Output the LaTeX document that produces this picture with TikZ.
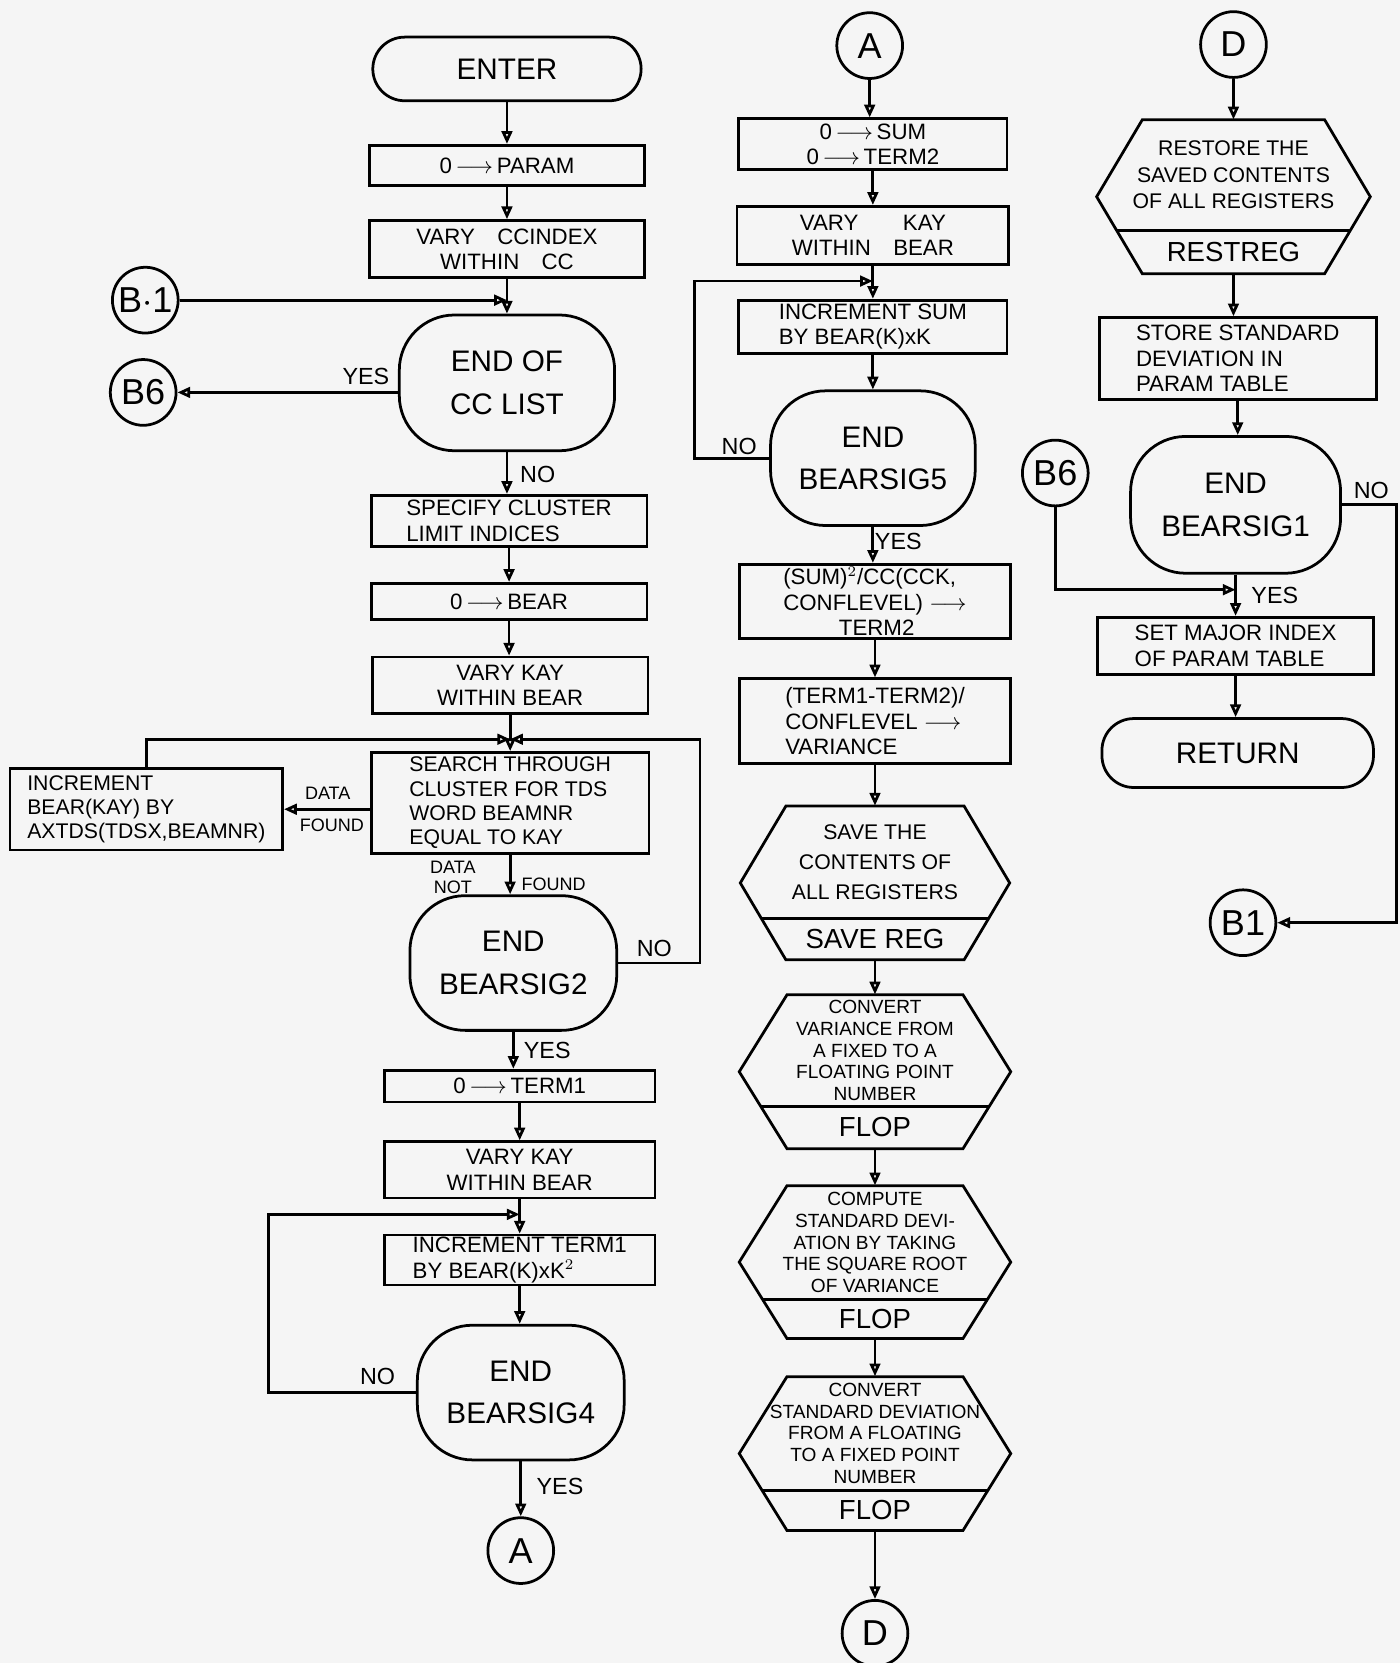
\documentclass[tikz,border=0pt]{standalone}
\usepackage{fontspec}
\setmainfont{Liberation Sans}
\usetikzlibrary{arrows.meta,calc}
\newcommand\hexfont{\fontsize{9.5}{11}\selectfont}
\newcommand\hexnode[9]{%
 \pgfmathsetmacro\hM{(#3+#4)/2}%
 \pgfmathsetmacro\hL{#2-#5}%
 \pgfmathsetmacro\hR{#2+#5}%
 \pgfmathsetmacro\hDx{#6*(#7-\hM)/(#4-\hM)}%
 \node[sz={2*#5}{#4-#3},inner sep=0pt] (#1) at (#2,\hM) {};%
 \draw[ln] (\hL+#6,#3) -- (\hR-#6,#3) -- (\hR,\hM) -- (\hR-#6,#4) -- (\hL+#6,#4) -- (\hL,\hM) -- cycle;%
 \draw[ln] (\hL+\hDx,#7) -- (\hR-\hDx,#7);%
 \node[hext] (#1-t) at (#2,{(#3+#7)/2}) {#8};%
 \node[hexl] (#1-l) at (#2,{(#7+#4)/2}) {#9};%
}
\begin{document}
\begin{tikzpicture}[x=0.5pt,y=-0.5pt,
  ln/.style={line width=1.3pt},
  arr/.style={ln,-{Triangle[open,length=6pt,width=5pt]}},
  sz/.style 2 args={minimum width=(#1)*0.5pt,minimum height=(#2)*0.5pt},
  box/.style={draw,ln,rectangle,inner sep=1pt,align=center,font=\fontsize{10.5}{12}\selectfont},
  dec/.style={draw,ln,rectangle,rounded corners=26pt,align=center,font=\fontsize{14}{20}\selectfont},
  term/.style={draw,ln,rectangle,rounded corners=15pt,align=center,font=\fontsize{14}{16}\selectfont},
  conn/.style={draw,ln,circle,minimum size=31pt,inner sep=0pt,font=\fontsize{17}{17}\selectfont},
  lbl/.style={font=\fontsize{11}{12}\selectfont,inner sep=1pt},
  small/.style={font=\fontsize{8.5}{9.5}\selectfont,inner sep=1pt,align=center},
  hext/.style={align=center,font=\hexfont,inner sep=0pt},
  hexl/.style={font=\fontsize{13}{14}\selectfont,inner sep=0pt},
]
\fill[white!96!black] (0,0) rectangle (1320,1568);
\useasboundingbox (0,0) rectangle (1320,1568);

% ---------------- left column ----------------
\node[term,sz={253}{60}] (enter) at (478,65) {ENTER};
\node[box,sz={259}{38}] (param) at (478,156) {0\,$\longrightarrow$\,PARAM};
\node[box,sz={259}{54}] (ccindex) at (478,235) {VARY\quad CCINDEX\\WITHIN\quad CC};
\node[conn] (b1) at (137,283) {B$\cdot$1};
\node[dec,sz={203}{128}] (endcc) at (478,361) {END OF\\CC LIST};
\node[conn] (b6) at (135,370) {B6};
\node[box,sz={260}{48},align=left] (specify) at (480,491) {SPECIFY CLUSTER\\LIMIT INDICES};
\node[box,sz={260}{34}] (bear0) at (480,567) {0\,$\longrightarrow$\,BEAR};
\node[box,sz={260}{53}] (vk1) at (481,646) {VARY KAY\\WITHIN BEAR};
\coordinate (j1) at (481,697);
\coordinate (c1) at (660,697);
\node[box,sz={262}{95},align=left,font=\fontsize{10}{11.5}\selectfont] (search) at (481,757) {SEARCH THROUGH\\CLUSTER FOR TDS\\WORD BEAMNR\\EQUAL TO KAY};
\node[box,sz={257}{77},align=left,font=\fontsize{10}{11.5}\selectfont] (incbear) at (138,763) {INCREMENT\\BEAR(KAY) BY\\AXTDS(TDSX,BEAMNR)};
\node[dec,sz={195}{127}] (endbs2) at (484,908) {END\\BEARSIG2};
\node[box,sz={255}{30}] (term1) at (490,1024) {0\,$\longrightarrow$\,TERM1};
\node[box,sz={255}{53}] (vk2) at (490,1103) {VARY KAY\\WITHIN BEAR};
\coordinate (j2) at (490,1145);
\coordinate (c2) at (253,1145);
\node[box,sz={255}{47},align=left] (incterm1) at (490,1188) {INCREMENT TERM1\\BY BEAR(K)xK$^2$};
\node[dec,sz={195}{127}] (endbs4) at (491,1313) {END\\BEARSIG4};
\node[conn] (aL) at (491,1462) {A};

% ---------------- middle column ----------------
\node[conn] (aM) at (820,43) {A};
\node[box,sz={253}{48}] (sum0) at (823,136) {0\,$\longrightarrow$\,SUM\\0\,$\longrightarrow$\,TERM2};
\node[box,sz={256}{55}] (vk3) at (823,222) {VARY\qquad KAY\\WITHIN\quad BEAR};
\coordinate (j3) at (823,265);
\coordinate (c3) at (655,265);
\node[box,sz={253}{50},align=left] (incsum) at (823,308) {INCREMENT SUM\\BY BEAR(K)xK};
\node[dec,sz={193}{127}] (endbs5) at (823,432) {END\\BEARSIG5};
\node[box,sz={256}{70},align=left] (term2) at (825,567) {(SUM)$^2$/CC(CCK,\\CONFLEVEL) $\longrightarrow$\\\hspace*{2.5em}TERM2};
\node[box,sz={256}{80},align=left] (variance) at (825,680) {(TERM1-TERM2)/\\CONFLEVEL $\longrightarrow$\\VARIANCE};
\renewcommand\hexfont{\fontsize{10}{14}\selectfont}
\hexnode{savereg}{825}{760}{905}{127}{43}{866}{SAVE THE\\CONTENTS OF\\ALL REGISTERS}{SAVE REG}
\renewcommand\hexfont{\fontsize{9}{10.3}\selectfont}
\hexnode{flopa}{825}{938}{1083}{128}{45}{1043}{CONVERT\\VARIANCE FROM\\A FIXED TO A\\FLOATING POINT\\NUMBER}{FLOP}
\hexnode{flopb}{825}{1118}{1262}{128}{45}{1225}{COMPUTE\\STANDARD DEVI-\\ATION BY TAKING\\THE SQUARE ROOT\\OF VARIANCE}{FLOP}
\hexnode{flopc}{825}{1298}{1443}{128}{45}{1405}{CONVERT\\STANDARD DEVIATION\\FROM A FLOATING\\TO A FIXED POINT\\NUMBER}{FLOP}
\node[conn] (dM) at (825,1540) {D};

% ---------------- right column ----------------
\node[conn] (dR) at (1163,42) {D};
\renewcommand\hexfont{\fontsize{10}{12.5}\selectfont}
\hexnode{restreg}{1163}{113}{258}{129}{43}{217}{RESTORE THE\\SAVED CONTENTS\\OF ALL REGISTERS}{RESTREG}
\node[box,sz={261}{77},align=left] (store) at (1167,338) {STORE STANDARD\\DEVIATION IN\\PARAM TABLE};
\node[dec,sz={198}{129}] (endbs1) at (1165,476) {END\\BEARSIG1};
\node[conn] (b6R) at (995,446) {B6};
\coordinate (j4) at (1165,556);
\node[box,sz={260}{54},align=left] (setmajor) at (1165,609) {SET MAJOR INDEX\\OF PARAM TABLE};
\node[term,sz={256}{65}] (return) at (1167,710) {RETURN};
\node[conn] (b1R) at (1172,870) {B1};
\coordinate (c4) at (1317,870);

% ---------------- labels ----------------
\node[lbl] (yes1) at (345,355) {YES};
\node[lbl] (no1) at (507,447) {NO};
\node[small] (data1) at (309,748) {DATA};
\node[small] (found1) at (313,778) {FOUND};
\node[small] (datanot) at (427,827) {DATA\\NOT};
\node[small] (found2) at (522,834) {FOUND};
\node[lbl] (no2) at (617,894) {NO};
\node[lbl] (yes2) at (516,990) {YES};
\node[lbl] (no3) at (356,1298) {NO};
\node[lbl] (yes3) at (528,1402) {YES};
\node[lbl] (no4) at (697,421) {NO};
\node[lbl] (yes4) at (847,511) {YES};
\node[lbl] (no5) at (1293,462) {NO};
\node[lbl] (yes5) at (1202,561) {YES};

% ---------------- connectors: left ----------------
\draw[arr] (enter.south) -- (enter.south |- param.north);
\draw[arr] (param.south) -- (param.south |- ccindex.north);
\draw[arr] (ccindex.south) -- (ccindex.south |- endcc.north);
\draw[arr] (b1.east) -- (b1.east -| endcc.north);
\draw[arr] (b6.east -| endcc.west) -- (b6.east);
\draw[arr] (endcc.south) -- (endcc.south |- specify.north);
\draw[arr] (specify.south) -- (specify.south |- bear0.north);
\draw[arr] (bear0.south) -- (bear0.south |- vk1.north);
\draw[arr] (vk1.south) -- (vk1.south |- search.north);
\draw[arr] (incbear.north) |- (j1);
\draw[arr] (endbs2.east) -| (c1) -- (j1);
\draw[arr] (search.west |- incbear.east) -- (incbear.east);
\draw[arr] (search.south) -- (search.south |- endbs2.north);
\draw[arr] (endbs2.south) -- (endbs2.south |- term1.north);
\draw[arr] (term1.south) -- (term1.south |- vk2.north);
\draw[arr] (vk2.south) -- (vk2.south |- incterm1.north);
\draw[arr] (endbs4.west) -| (c2) -- (j2);
\draw[arr] (incterm1.south) -- (incterm1.south |- endbs4.north);
\draw[arr] (endbs4.south) -- (endbs4.south |- aL.north);

% ---------------- connectors: middle ----------------
\draw[arr] (aM.south) -- (aM.south |- sum0.north);
\draw[arr] (sum0.south) -- (sum0.south |- vk3.north);
\draw[arr] (vk3.south) -- (vk3.south |- incsum.north);
\draw[arr] (endbs5.west) -| (c3) -- (j3);
\draw[arr] (incsum.south) -- (incsum.south |- endbs5.north);
\draw[arr] (endbs5.south) -- (endbs5.south |- term2.north);
\draw[arr] (term2.south) -- (term2.south |- variance.north);
\draw[arr] (variance.south) -- (variance.south |- savereg.north);
\draw[arr] (savereg.south) -- (savereg.south |- flopa.north);
\draw[arr] (flopa.south) -- (flopa.south |- flopb.north);
\draw[arr] (flopb.south) -- (flopb.south |- flopc.north);
\draw[arr] (flopc.south) -- (flopc.south |- dM.north);

% ---------------- connectors: right ----------------
\draw[arr] (dR.south) -- (dR.south |- restreg.north);
\draw[arr] (restreg.south) -- (restreg.south |- store.north);
\draw[arr] (store.south) -- (store.south |- endbs1.north);
\draw[arr] (endbs1.south) -- (endbs1.south |- setmajor.north);
\draw[arr] (b6R.south) |- (j4);
\draw[arr] (setmajor.south) -- (setmajor.south |- return.north);
\draw[arr] (endbs1.east) -| (c4) -- (b1R.east);
\end{tikzpicture}
\end{document}
